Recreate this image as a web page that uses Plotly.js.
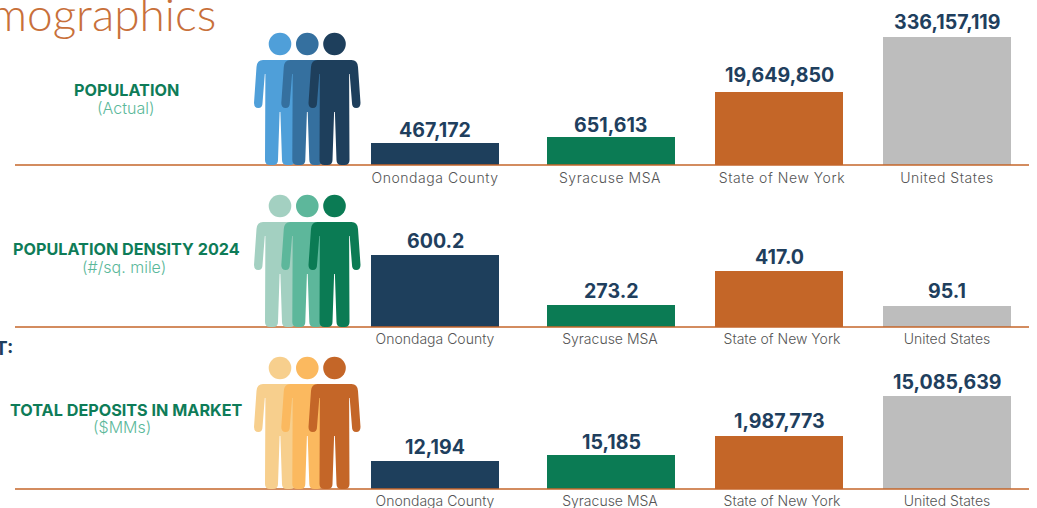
<!DOCTYPE html>
<html><head><meta charset="utf-8">
<script src="https://cdn.plot.ly/plotly-3.0.1.min.js"></script>
<style>html,body{margin:0;padding:0;background:#fff;overflow:hidden}
.xtick text{letter-spacing:.55px}</style>
</head><body><div id="chart" style="width:1037px;height:508px"></div>
<script>
const categories = ["Onondaga County","Syracuse MSA","State of New York","United States"];
const populationLabels = ["467,172","651,613","19,649,850","336,157,119"];
const densityLabels = ["600.2","273.2","417.0","95.1"];
const depositLabels = ["12,194","15,185","1,987,773","15,085,639"];
// the bars of the reference are illustrative, not to scale: heights
const populationHeights = [22,28,73,128];
const densityHeights = [72,22,56,21];
const depositHeights = [28,34,53,93];
const barColors = ["#1E3F5C","#0B7B54","#C46628","#BDBDBD"];
const W=1037,H=508;
const centers=[435,611,779,947], tickCenters=[435,610,782,947], barWidth=128, xLeft=15, xRight=1029, span=140;
const baselines=[165,327,489], tickStandoff=[3,2,2];
const FONT='Inter, "Open Sans", sans-serif';
const rows=[
 {h:populationHeights,t:populationLabels,gap:[13,12,17,15],title:"POPULATION",sub:"(Actual)",tx:126,ty:90,sx:126,sy:108,
  fig:["#4F9FD9","#35709F","#1E3F5C"]},
 {h:densityHeights,t:densityLabels,gap:[14,14,14,15],title:"POPULATION DENSITY 2024",sub:"(#/sq. mile)",tx:126,ty:249,sx:124,sy:267,
  fig:["#A3D0C1","#5DB79B","#0B7B54"]},
 {h:depositHeights,t:depositLabels,gap:[14,13,15,14],title:"TOTAL DEPOSITS IN MARKET",sub:"($MMs)",tx:126,ty:410,sx:122,sy:427,
  fig:["#F7CF8D","#FBB95F","#C46628"]}
];
const px=x=>x/W, py=y=>1-y/H;
const data=[],shapes=[],annotations=[];
const layout={width:W,height:H,margin:{l:0,r:0,t:0,b:0},paper_bgcolor:"#fff",plot_bgcolor:"rgba(0,0,0,0)",showlegend:false,bargap:0,hovermode:false};
function person(cx,base,color){
  const P=(d,u)=>`${px(cx+d)},${py(base-u)}`;
  const path=[`M${P(-17,105)}`,`L${P(17,105)}`,`Q${P(23,105)} ${P(23.5,98)}`,`L${P(26,62)}`,`Q${P(26,57)} ${P(21.7,57)}`,`Q${P(17.5,57)} ${P(17.5,62)}`,
   `L${P(15.2,91)}`,`L${P(14.6,91)}`,`L${P(15,5)}`,`Q${P(15,0)} ${P(10,0)}`,`L${P(7,0)}`,`Q${P(2,0)} ${P(2,5)}`,`L${P(0.4,53)}`,`L${P(-0.4,53)}`,
   `L${P(-2,5)}`,`Q${P(-2,0)} ${P(-7,0)}`,`L${P(-10,0)}`,`Q${P(-15,0)} ${P(-15,5)}`,`L${P(-14.6,91)}`,`L${P(-15.2,91)}`,`L${P(-17.5,62)}`,
   `Q${P(-17.5,57)} ${P(-21.7,57)}`,`Q${P(-26,57)} ${P(-26,62)}`,`L${P(-23.5,98)}`,`Q${P(-23,105)} ${P(-17,105)}`,"Z"].join(" ");
  shapes.push({type:"path",xref:"paper",yref:"paper",path,fillcolor:color,line:{width:0}});
  shapes.push({type:"circle",xref:"paper",yref:"paper",x0:px(cx-11.3),x1:px(cx+11.3),y0:py(base-121-11.3),y1:py(base-121+11.3),fillcolor:color,line:{width:0}});
}
function label(text,x,y,size,color,weight,anchor,family){
  annotations.push({xref:"paper",yref:"paper",x:px(x),y:py(y),text,showarrow:false,xanchor:anchor||"center",yanchor:"middle",
    font:{family:family||FONT,size,color,weight:weight||400}});
}
rows.forEach((r,i)=>{
  const s=i?String(i+1):"";
  data.push({type:"bar",x:centers,y:r.h,width:barWidth,marker:{color:barColors,line:{width:0}},xaxis:"x"+s,yaxis:"y"+s,hoverinfo:"skip"});
  r.t.forEach((t,k)=>annotations.push({xref:"x"+s,yref:"y"+s,x:centers[k],y:r.h[k],yshift:r.gap[k],text:t,showarrow:false,yanchor:"middle",
    font:{family:FONT,size:19.6,color:"#1F3F5E",weight:700}}));
  layout["xaxis"+s]={domain:[px(xLeft),px(xRight)],range:[xLeft,xRight],anchor:"y"+s,tickmode:"array",tickvals:tickCenters,ticktext:categories,
    ticks:"",showgrid:false,zeroline:false,showline:false,tickangle:0,ticklabelstandoff:tickStandoff[i],
    tickfont:{family:FONT,size:14,color:"#555555",weight:300}};
  layout["yaxis"+s]={domain:[py(baselines[i]),py(baselines[i]-span)],range:[0,span],anchor:"x"+s,visible:false,zeroline:false,showline:false,fixedrange:true};
  shapes.push({type:"line",xref:"paper",yref:"paper",x0:px(xLeft),x1:px(xRight),y0:py(baselines[i]),y1:py(baselines[i]),line:{color:"#C4662A",width:1.5}});
  [280,307.3,334.5].forEach((cx,k)=>person(cx,baselines[i],r.fig[k]));
  label(r.title,r.tx,r.ty,16.2,"#0E7C58",700);
  label(r.sub,r.sx,r.sy,16,"#5BB89A",300);
});
label("mographics",217.5,13.5,46,"#C8703A",300,"right","Lato, sans-serif");
label("T:",-7,348,19,"#1F3F5E",700,"left");
layout.shapes=shapes;layout.annotations=annotations;
Plotly.newPlot("chart",data,layout,{displayModeBar:false,staticPlot:true});
</script></body></html>
